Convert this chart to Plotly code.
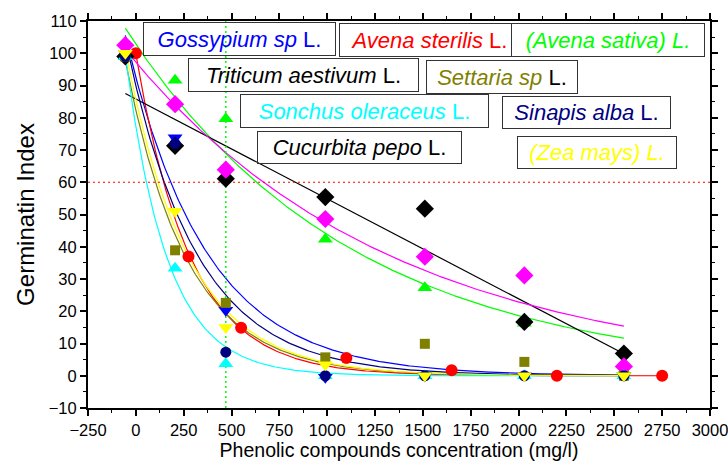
import numpy as np
import plotly.graph_objects as go

# ---------------- data ----------------
x_common = [-55, 205, 470, 990, 1510, 2030, 2550]
x_red = [0, 275, 550, 1100, 1650, 2200, 2750]

gossypium = [100, 73.8, 20.3, -0.5, 0, 0, 0]          # blue, down triangle
avena_sterilis = [100, 37.0, 14.9, 5.5, 1.7, 0, 0]     # red, circle
avena_sativa = [99, 91.6, 79.7, 42.3, 27.3, 16.3, 1.5] # green, up triangle
triticum = [99, 71.3, 61.1, 55.4, 51.8, 16.7, 6.9]     # black, diamond
cucurbita = [102.5, 84.2, 63.9, 48.6, 36.9, 31.1, 2.9] # magenta, diamond
settaria = [99, 38.9, 22.6, 5.7, 9.9, 4.3, 0]          # olive, square
sonchus = [99, 33.3, 3.7, 0, 0, 0, 0]                  # cyan, up triangle
sinapis = [99, 72.0, 7.3, 0, 0, 0, 0]                  # navy, circle
zea = [100, 51.0, 15.0, 3.4, 0, 0, 0]                  # yellow, down triangle

threshold_y = 60
threshold_x = 470

labels = [
    ("<i>Gossypium sp</i> L.", "#0000FF"),
    ("<i>Avena sterilis</i> L.", "#FF0000"),
    ("<i>(Avena sativa) L.</i>", "#00FF00"),
    ("<i>Triticum aestivum</i> L.", "#000000"),
    ("<i>Settaria sp</i> <span style='color:#000000'>L.</span>", "#808000"),
    ("<i>Sonchus oleraceus</i> L.", "#00FFFF"),
    ("<i>Sinapis alba</i> L.", "#000080"),
    ("<i>Cucurbita pepo</i> L.", "#000000"),
    ("<i>(Zea mays) L.</i>", "#FFFF00"),
]

# name, x, y, colour, symbol, size, fit model
series = [
    ("Gossypium sp L.", x_common, gossypium, "#0000FF", "triangle-down", 13, "exp"),
    ("Avena sterilis L.", x_red, avena_sterilis, "#FF0000", "circle", 12, "exp"),
    ("Avena sativa L.", x_common, avena_sativa, "#00FF00", "triangle-up", 13, "exp"),
    ("Triticum aestivum L.", x_common, triticum, "#000000", "diamond", 14, "linear"),
    ("Cucurbita pepo L.", x_common, cucurbita, "#FF00FF", "diamond", 14, "exp"),
    ("Settaria sp L.", x_common, settaria, "#808000", "square", 10, "exp"),
    ("Sonchus oleraceus L.", x_common, sonchus, "#00FFFF", "triangle-up", 13, "exp"),
    ("Sinapis alba L.", x_common, sinapis, "#000080", "circle", 11, "exp"),
    ("Zea mays L.", x_common, zea, "#FFFF00", "triangle-down", 13, "exp"),
]

# ---------------- helpers ----------------
W, H = 728, 466
L, R, T, B = 88, 18, 21, 58
PW, PH = W - L - R, H - T - B


def px(xp):
    return (xp - L) / PW


def py(yp):
    return (H - B - yp) / PH


def fit_curve(x, y, model):
    """least-squares fit: y = A*exp(-x/t)  or  y = a + b*x"""
    x = np.asarray(x, float)
    y = np.asarray(y, float)
    xs = np.linspace(x.min(), x.max(), 300)
    if model == "linear":
        b, a = np.polyfit(x, y, 1)
        return xs, a + b * xs
    best = None
    for t in np.geomspace(20, 50000, 4000):
        e = np.exp(-x / t)
        amp = np.sum(y * e) / np.sum(e * e)
        r = np.sum((amp * e - y) ** 2)
        if best is None or r < best[0]:
            best = (r, amp, t)
    _, amp, t = best
    return xs, amp * np.exp(-xs / t)


fig = go.Figure()

# fitted curves
for name, xs, ys, col, sym, sz, model in series:
    fx, fy = fit_curve(xs, ys, model)
    fig.add_trace(go.Scatter(x=fx, y=fy, mode="lines",
                             line=dict(color=col, width=1.2),
                             showlegend=False, hoverinfo="skip"))

# reference lines
fig.add_trace(go.Scatter(x=[-250, 3000], y=[threshold_y, threshold_y], mode="lines",
                         line=dict(color="#FF0000", width=1.2, dash="2px,3px"),
                         showlegend=False, hoverinfo="skip"))
fig.add_trace(go.Scatter(x=[threshold_x, threshold_x], y=[-10, 110], mode="lines",
                         line=dict(color="#00FF00", width=1.5, dash="2px,3px"),
                         showlegend=False, hoverinfo="skip"))

# markers
for name, xs, ys, col, sym, sz, model in series:
    fig.add_trace(go.Scatter(x=xs, y=ys, mode="markers", name=name,
                             marker=dict(color=col, symbol=sym, size=sz,
                                         line=dict(width=0)),
                             showlegend=False))

# label boxes (pixel boxes: x0, y0, x1, y1)
boxes = [
    (143, 22, 336, 56),
    (339, 23, 519, 57),
    (511, 23, 705, 57),
    (188, 58, 419, 92),
    (426, 60, 578, 94),
    (240, 94, 489, 128),
    (502, 96, 671, 129),
    (257, 131, 462, 164),
    (517, 136, 677, 169),
]
for (txt, col), (x0, y0, x1, y1) in zip(labels, boxes):
    fig.add_annotation(
        xref="paper", yref="paper", x=px(x0), y=py(y0),
        xanchor="left", yanchor="top", showarrow=False,
        text=txt, width=x1 - x0 - 2, height=y1 - y0 - 2,
        align="center", valign="middle",
        font=dict(family="Liberation Sans, Arial", size=22, color=col),
        bordercolor="#333333", borderwidth=1, borderpad=0,
        bgcolor="rgba(255,255,255,1)" if "sativa" in txt else "rgba(0,0,0,0)",
    )

axis_font = dict(family="Liberation Sans, Arial", size=16.5, color="black")
fig.update_xaxes(
    range=[-250, 3000], dtick=250, tick0=0, showgrid=False, zeroline=False,
    showline=True, linecolor="black", linewidth=2, mirror="allticks",
    ticks="outside", ticklen=6, tickwidth=1.5, tickcolor="black",
    minor=dict(dtick=125, ticks="outside", ticklen=3, tickcolor="black", tickwidth=1.2),
    tickfont=axis_font, automargin=False, ticklabeloverflow="allow",
    title=dict(text="Phenolic compounds concentration (mg/l)",
               font=dict(family="Liberation Sans, Arial", size=19.5, color="black"),
               standoff=2),
)
fig.update_yaxes(
    range=[-10, 110], dtick=10, tick0=0, showgrid=False, zeroline=False,
    showline=True, linecolor="black", linewidth=2, mirror="allticks",
    ticks="outside", ticklen=6, tickwidth=1.5, tickcolor="black",
    minor=dict(dtick=5, ticks="outside", ticklen=3, tickcolor="black", tickwidth=1.2),
    tickfont=axis_font, automargin=False, ticklabeloverflow="allow",
    title=dict(text="Germinatin Index",
               font=dict(family="Liberation Sans, Arial", size=24, color="black"),
               standoff=7),
)

fig.update_layout(
    width=W, height=H, margin=dict(l=L, r=R, t=T, b=B),
    paper_bgcolor="white", plot_bgcolor="white", showlegend=False,
)

fig.write_html("out.html", config={"displayModeBar": False},
               post_script="document.body.style.margin='0px';document.body.style.overflow='hidden';")
